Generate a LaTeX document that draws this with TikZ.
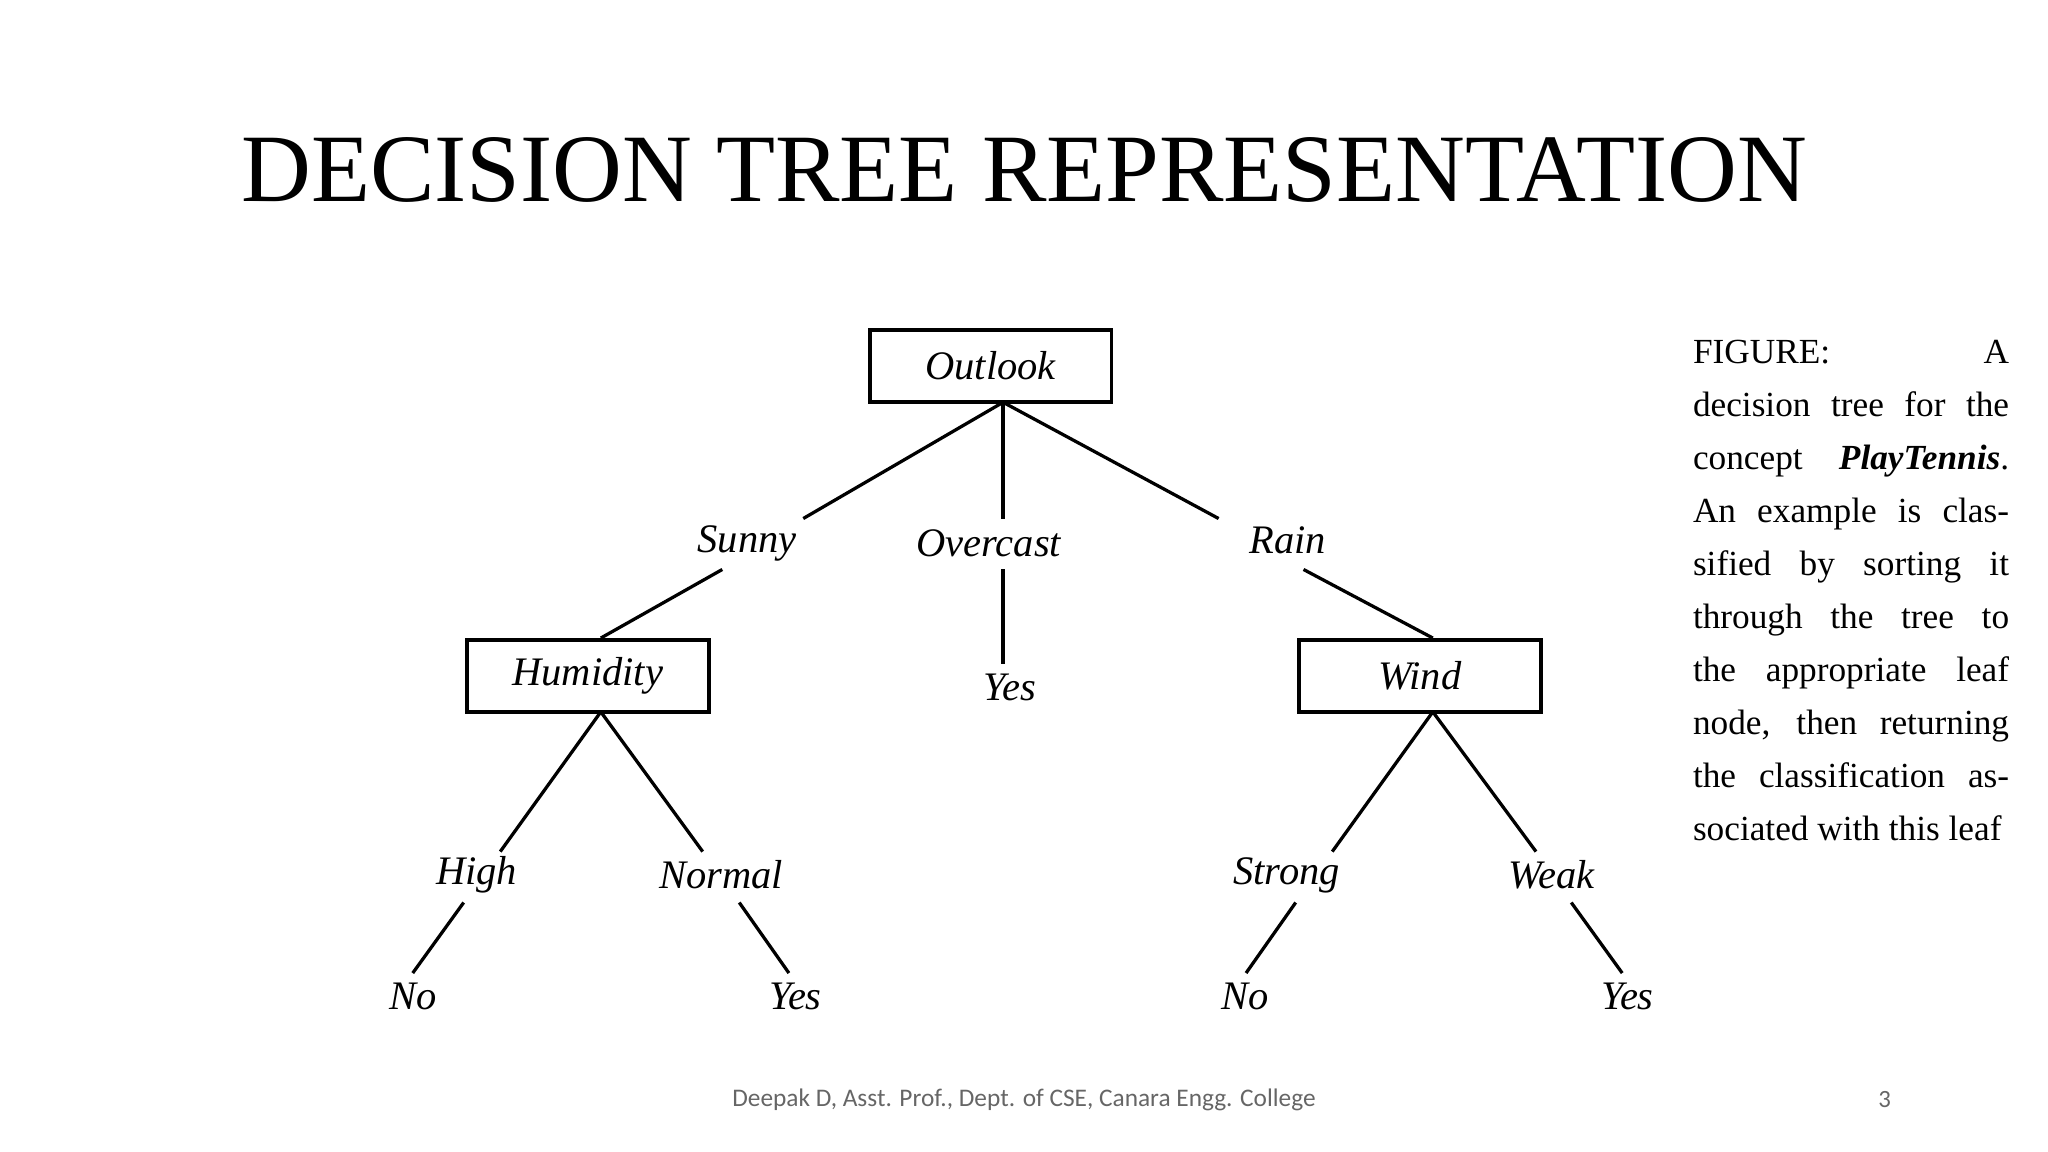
\documentclass[tikz,border=0pt]{standalone}
\usepackage{fontspec}
\setmainfont{Liberation Serif}
\newfontfamily\footfont{Carlito}
\begin{document}
\begin{tikzpicture}[x=1pt,y=-1pt,
  box/.style={draw,line width=3pt,minimum width=185pt,minimum height=55pt,font=\fontsize{31}{31}\selectfont\itshape},
  lab/.style={font=\fontsize{31}{31}\selectfont\itshape,inner sep=4pt},
  edge/.style={line width=2.5pt}]
\useasboundingbox (0,0) rectangle (1568,882);
\node[font=\fontsize{74}{74}\selectfont] (title) at (784,130) {DECISION TREE REPRESENTATION};
\node[box] (outlook) at (758.5,280) {Outlook};
\node[box] (hum) at (450,517.5) {Humidity};
\node[box] (wind) at (1087,517.5) {Wind};
\node[lab] (sunny) at (572,416) {Sunny};
\node[lab] (over) at (757,416) {Overcast};
\node[lab] (rain) at (986,414) {Rain};
\node[lab] (yes1) at (773,526) {Yes};
\node[lab] (high) at (365,670) {High};
\node[lab] (normal) at (552,670) {Normal};
\node[lab] (strong) at (985,670) {Strong};
\node[lab] (weak) at (1188,670) {Weak};
\node[lab] (no1) at (316,763) {No};
\node[lab] (yes2) at (609,763) {Yes};
\node[lab] (no2) at (953,763) {No};
\node[lab] (yes3) at (1246,763) {Yes};
\coordinate (os) at (768,308);
\coordinate (hs) at (460,545);
\coordinate (ws) at (1097,545);
\draw[edge] (os) -- (615,397);
\draw[edge] (os) -- (768,397);
\draw[edge] (os) -- (933,397);
\draw[edge] (553,436) -- (hum.north -| hs);
\draw[edge] (768,436) -- (768,508);
\draw[edge] (998,436) -- (wind.north -| ws);
\draw[edge] (hs) -- (383,652);
\draw[edge] (hs) -- (538,652);
\draw[edge] (ws) -- (1020,652);
\draw[edge] (ws) -- (1176,652);
\draw[edge] (355,691) -- (316,745);
\draw[edge] (566,691) -- (604,745);
\draw[edge] (992,691) -- (954,745);
\draw[edge] (1203,691) -- (1242,745);
\node[anchor=north west,text width=242pt,align=justify,inner sep=0pt,
  font=\fontsize{27}{40.6}\selectfont] (cap) at (1296,260)
  {\hyphenpenalty=10000\exhyphenpenalty=10000\emergencystretch=30pt FIGURE:\hfill A\\ decision tree for the concept \textbf{\textit{PlayTennis}}. An example is classified by sorting it through the tree to the appropriate leaf node, then returning the classification associated with this leaf};
\node[font=\footfont\fontsize{19.4}{19.4}\selectfont,text=black!60] (foot) at (784,842) {Deepak D, Asst. Prof., Dept. of CSE, Canara Engg. College};
\node[font=\footfont\fontsize{19}{19}\selectfont,text=black!60] (pg) at (1443,842) {3};
\end{tikzpicture}
\end{document}
